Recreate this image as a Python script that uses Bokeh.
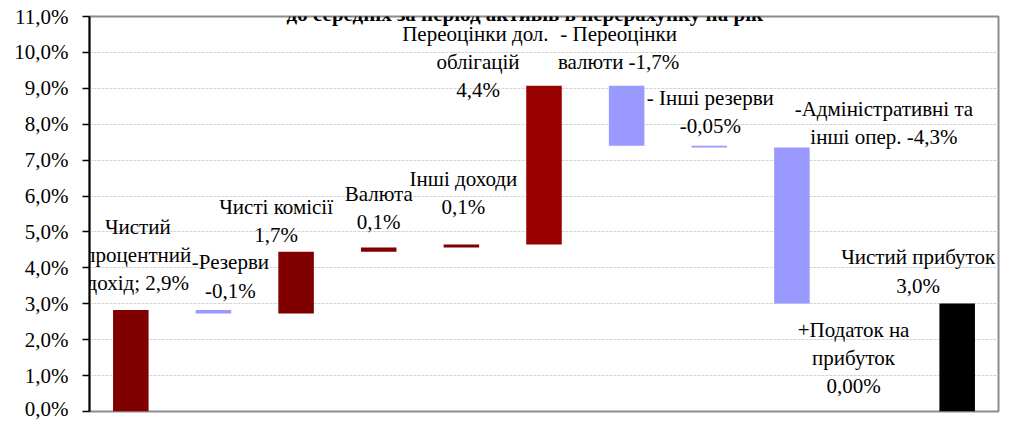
from bokeh.plotting import figure
from bokeh.models import (ColumnDataSource, FactorRange, Range1d, FixedTicker,
                          CustomJSTickFormatter, Label)
from bokeh.embed import file_html
from bokeh.resources import INLINE

# ---------------- data ----------------
categories = ["Чистий процентний дохід", "Резерви", "Чисті комісії", "Валюта",
              "Інші доходи", "Переоцінки дол. облігацій", "Переоцінки валюти",
              "Інші резерви", "Адміністративні та інші опер.",
              "Податок на прибуток", "Чистий прибуток"]
# step changes (% of average assets, annualised); last category is the total
steps = [2.83, -0.10, 1.72, 0.12, 0.08, 4.42, -1.67, -0.05, -4.34, 0.00]
label_texts = ["Чистий\nпроцентний\nдохід; 2,9%",
               "-Резерви\n-0,1%",
               "Чисті комісії\n1,7%",
               "Валюта\n0,1%",
               "Інші доходи\n0,1%",
               "Переоцінки  дол.\nоблігацій\n4,4%",
               "- Переоцінки\nвалюти -1,7%",
               "- Інші резерви\n-0,05%",
               "-Адміністративні та\nінші опер. -4,3%",
               "+Податок на\nприбуток\n0,00%",
               "Чистий прибуток\n3,0%"]
y_ticks = [0, 1, 2, 3, 4, 5, 6, 7, 8, 9, 10, 11]
title_text = "до середніх за період активів  в перерахунку на рік"

# ---------------- layout / style (not data) ----------------
label_y = [5.13, 4.15, 5.69, 6.07, 6.48, 10.52, 10.52, 8.74, 8.43, 2.28, 4.29]
label_dx = [7, 17, -20, 0, 2, -66, -8, 1, 92, -21, -39]
W, H = 1002, 420
B_LEFT, B_RIGHT, B_TOP, B_BOTTOM = 89, 4, 16, 9
px_per_unit = (H - B_TOP - B_BOTTOM) / 11.0
line_step_px = 28.1
FONT = "Liberation Serif"
POS, POS2, NEG, TOT = "#800000", "#990000", "#9999FF", "#000000"

bottoms, tops, colors = [], [], []
run = 0.0
for i, s in enumerate(steps):
    b, t = run, run + s
    bottoms.append(min(b, t)); tops.append(max(b, t))
    colors.append(NEG if s < 0 else (POS2 if i == 5 else POS))
    run = t
bottoms.append(0.0); tops.append(run); colors.append(TOT)

bars = ColumnDataSource(dict(x=categories, bottom=bottoms, top=tops, color=colors))

p = figure(x_range=FactorRange(factors=categories, range_padding=0),
           y_range=Range1d(0, 11), width=W, height=H,
           output_backend="svg", toolbar_location=None,
           min_border_left=B_LEFT, min_border_right=B_RIGHT,
           min_border_top=B_TOP, min_border_bottom=B_BOTTOM)
p.background_fill_color = "white"
p.border_fill_color = "white"
p.outline_line_color = "#8c8c8c"
p.outline_line_width = 2

p.vbar(x="x", bottom="bottom", top="top", width=0.43, color="color",
       line_color=None, source=bars)

p.xaxis.visible = False

yax = p.yaxis[0]
yax.ticker = FixedTicker(ticks=y_ticks)
yax.formatter = CustomJSTickFormatter(
    code="return tick.toFixed(1).replace('.', ',') + '%';")
yax.axis_line_color = "black"
yax.axis_line_width = 2
yax.major_tick_line_color = "black"
yax.major_tick_line_width = 1.5
yax.major_tick_out = 7
yax.major_tick_in = 0
yax.minor_tick_line_color = None
yax.major_label_standoff = 14
yax.major_label_text_font = FONT
yax.major_label_text_font_size = "21px"
yax.major_label_text_color = "black"

p.xgrid.grid_line_color = None
p.ygrid.grid_line_color = "#d4d4d4"
p.ygrid.grid_line_dash = "3 1"
p.ygrid.grid_line_width = 1

for i, txt in enumerate(label_texts):
    for j, line in enumerate(txt.split("\n")):
        p.add_layout(Label(x=i + 0.5, y=label_y[i] - j * line_step_px / px_per_unit,
                           x_offset=label_dx[i], text=line, text_font=FONT,
                           text_font_size="21px", text_color="black",
                           text_align="center", text_baseline="middle"))

p.add_layout(Label(x=5.3, y=11.08, text=title_text, text_font=FONT,
                   text_font_size="21px", text_font_style="bold",
                   text_align="center", text_baseline="alphabetic",
                   text_color="black"))

open("out.html", "w").write(file_html(p, INLINE))
